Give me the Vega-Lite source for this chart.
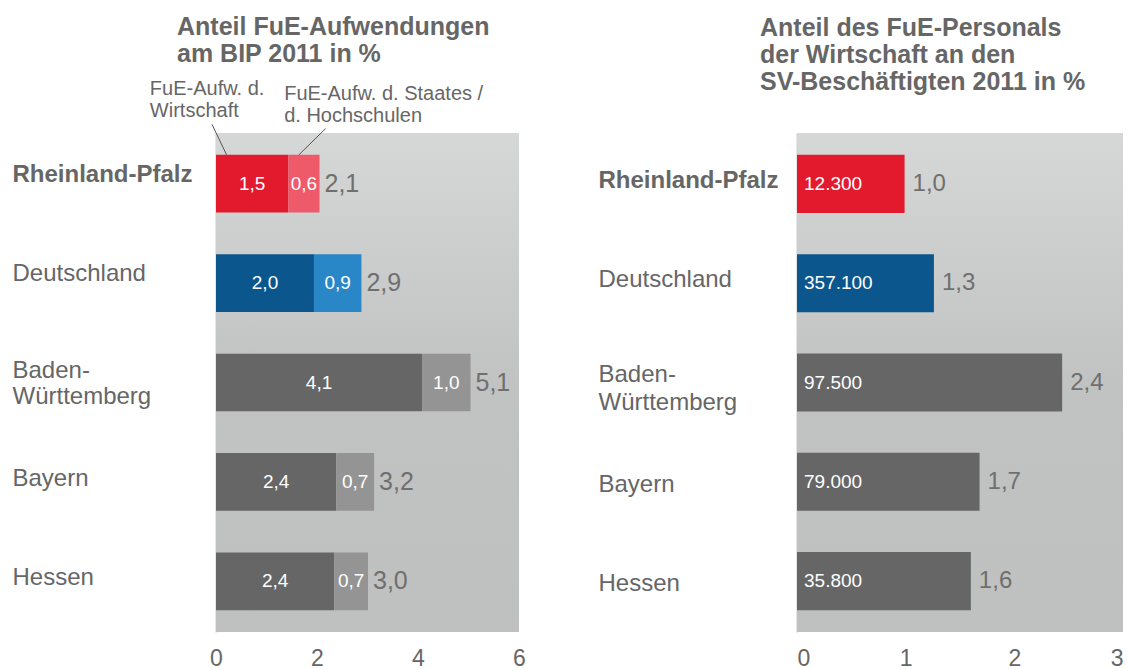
{
  "$schema": "https://vega.github.io/schema/vega-lite/v6.json",
  "padding": {"left": 12, "top": 15, "right": 0, "bottom": 0},
  "config": {
    "font": "Liberation Sans",
    "view": {"stroke": null},
    "title": {"font": "Liberation Sans", "fontSize": 25, "fontWeight": "bold", "color": "#666666", "anchor": "start", "frame": "group", "lineHeight": 27}
  },
  "datasets": {
    "fue": [
      {"land": "Rheinland-Pfalz", "w": 1.43, "total": 2.05, "l1": "1,5", "l2": "0,6", "lt": "2,1"},
      {"land": "Deutschland", "w": 1.94, "total": 2.88, "l1": "2,0", "l2": "0,9", "lt": "2,9"},
      {"land": "Baden-Württemberg", "w": 4.08, "total": 5.04, "l1": "4,1", "l2": "1,0", "lt": "5,1"},
      {"land": "Bayern", "w": 2.38, "total": 3.13, "l1": "2,4", "l2": "0,7", "lt": "3,2"},
      {"land": "Hessen", "w": 2.34, "total": 3.01, "l1": "2,4", "l2": "0,7", "lt": "3,0"}
    ],
    "personal": [
      {"land": "Rheinland-Pfalz", "anteil": 0.99, "anzahl": "12.300", "lt": "1,0"},
      {"land": "Deutschland", "anteil": 1.26, "anzahl": "357.100", "lt": "1,3"},
      {"land": "Baden-Württemberg", "anteil": 2.44, "anzahl": "97.500", "lt": "2,4"},
      {"land": "Bayern", "anteil": 1.68, "anzahl": "79.000", "lt": "1,7"},
      {"land": "Hessen", "anteil": 1.6, "anzahl": "35.800", "lt": "1,6"}
    ]
  },
  "hconcat": [
    {
      "width": 303,
      "height": 499,
      "title": {"text": ["Anteil FuE-Aufwendungen", "am BIP 2011 in %"], "dx": -39, "offset": 12},
      "data": {"name": "fue"},
      "layer": [
        {
          "data": {"values": [{}]},
          "mark": {"type": "rect", "fill": {"gradient": "linear", "x1": 0, "y1": 0, "x2": 0, "y2": 1, "stops": [{"offset": 0, "color": "#d6d7d7"}, {"offset": 0.5, "color": "#c1c2c2"}, {"offset": 1, "color": "#bfc0c0"}]}},
          "encoding": {"x": {"datum": 0, "type": "quantitative"}, "x2": {"datum": 6}}
        },
        {
          "mark": {"type": "bar"},
          "encoding": {
            "y": {"field": "land", "type": "nominal", "sort": null, "scale": {"paddingInner": 0.42, "paddingOuter": 0.22},
              "axis": {"title": null, "ticks": false, "tickSize": 0, "domain": true, "domainColor": "#e6e6e6", "domainWidth": 3, "labelAlign": "left", "labelPadding": 204, "labelFontSize": 24, "labelColor": "#666666", "labelLimit": 300, "labelBaseline": "middle", "labelLineHeight": 26,
                "labelFontWeight": {"condition": {"test": "datum.value == 'Rheinland-Pfalz'", "value": "bold"}, "value": "normal"},
                "labelOffset": {"condition": [{"test": "datum.value == 'Rheinland-Pfalz' || datum.value == 'Deutschland'", "value": -9}, {"test": "datum.value == 'Baden-Württemberg'", "value": -12}], "value": -3},
                "labelExpr": "datum.value == 'Baden-Württemberg' ? ['Baden-', 'Württemberg'] : datum.value"}},
            "x": {"field": "w", "type": "quantitative", "scale": {"domain": [0, 6], "nice": false},
              "axis": {"title": null, "values": [0, 2, 4, 6], "format": "d", "domain": false, "ticks": false, "tickSize": 0, "grid": false, "labelFontSize": 23, "labelColor": "#666666", "labelPadding": 15, "labelFlush": false}},
            "color": {"field": "land", "type": "nominal", "legend": null, "scale": {"domain": ["Rheinland-Pfalz", "Deutschland", "Baden-Württemberg", "Bayern", "Hessen"], "range": ["#e31a2e", "#0c568e", "#666666", "#666666", "#666666"]}}
          }
        },
        {
          "mark": {"type": "bar"},
          "encoding": {
            "y": {"field": "land", "type": "nominal", "sort": null},
            "x": {"field": "w", "type": "quantitative"},
            "x2": {"field": "total"},
            "color": {"field": "land", "type": "nominal", "legend": null, "scale": {"domain": ["Rheinland-Pfalz", "Deutschland", "Baden-Württemberg", "Bayern", "Hessen"], "range": ["#ee5a6a", "#2a87c7", "#949494", "#949494", "#949494"]}}
          }
        },
        {
          "transform": [{"calculate": "datum.w / 2", "as": "mitte1"}],
          "mark": {"type": "text", "color": "white", "fontSize": 19, "align": "center", "baseline": "middle"},
          "encoding": {"y": {"field": "land", "type": "nominal", "sort": null}, "x": {"field": "mitte1", "type": "quantitative"}, "text": {"field": "l1"}}
        },
        {
          "transform": [{"calculate": "(datum.w + datum.total) / 2", "as": "mitte2"}],
          "mark": {"type": "text", "color": "white", "fontSize": 19, "align": "center", "baseline": "middle"},
          "encoding": {"y": {"field": "land", "type": "nominal", "sort": null}, "x": {"field": "mitte2", "type": "quantitative"}, "text": {"field": "l2"}}
        },
        {
          "mark": {"type": "text", "color": "#6f6f6f", "fontSize": 25, "align": "left", "baseline": "middle", "dx": 5},
          "encoding": {"y": {"field": "land", "type": "nominal", "sort": null}, "x": {"field": "total", "type": "quantitative"}, "text": {"field": "lt"}}
        },
        {
          "data": {"values": [{}]},
          "mark": {"type": "text", "text": ["FuE-Aufw. d.", "Wirtschaft"], "align": "left", "baseline": "alphabetic", "fontSize": 20, "lineHeight": 22, "color": "#666666"},
          "encoding": {"x": {"datum": -1.31, "type": "quantitative"}, "y": {"datum": "Rheinland-Pfalz", "type": "nominal", "bandPosition": -1.03}}
        },
        {
          "data": {"values": [{}]},
          "mark": {"type": "text", "text": ["FuE-Aufw. d. Staates /", "d. Hochschulen"], "align": "left", "baseline": "alphabetic", "fontSize": 20, "lineHeight": 22, "color": "#666666"},
          "encoding": {"x": {"datum": 1.35, "type": "quantitative"}, "y": {"datum": "Rheinland-Pfalz", "type": "nominal", "bandPosition": -0.946}}
        },
        {
          "data": {"values": [{}]},
          "mark": {"type": "rule", "color": "#555555", "strokeWidth": 1},
          "encoding": {"x": {"datum": -0.08, "type": "quantitative"}, "x2": {"datum": 0.21}, "y": {"datum": "Rheinland-Pfalz", "type": "nominal", "bandPosition": -0.53}, "y2": {"datum": "Rheinland-Pfalz", "bandPosition": 0}}
        },
        {
          "data": {"values": [{}]},
          "mark": {"type": "rule", "color": "#555555", "strokeWidth": 1},
          "encoding": {"x": {"datum": 2.17, "type": "quantitative"}, "x2": {"datum": 1.64}, "y": {"datum": "Rheinland-Pfalz", "type": "nominal", "bandPosition": -0.455}, "y2": {"datum": "Rheinland-Pfalz", "bandPosition": 0}}
        }
      ],
      "resolve": {"scale": {"color": "independent"}}
    },
    {
      "width": 326,
      "height": 499,
      "title": {"text": ["Anteil des FuE-Personals", "der Wirtschaft an den", "SV-Beschäftigten 2011 in %"], "dx": -37, "offset": 38},
      "data": {"name": "personal"},
      "layer": [
        {
          "data": {"values": [{}]},
          "mark": {"type": "rect", "fill": {"gradient": "linear", "x1": 0, "y1": 0, "x2": 0, "y2": 1, "stops": [{"offset": 0, "color": "#d6d7d7"}, {"offset": 0.5, "color": "#c1c2c2"}, {"offset": 1, "color": "#bfc0c0"}]}},
          "encoding": {"x": {"datum": 0, "type": "quantitative"}, "x2": {"datum": 3}}
        },
        {
          "mark": {"type": "bar"},
          "encoding": {
            "y": {"field": "land", "type": "nominal", "sort": null, "scale": {"paddingInner": 0.415, "paddingOuter": 0.22},
              "axis": {"title": null, "ticks": false, "tickSize": 0, "domain": true, "domainColor": "#e6e6e6", "domainWidth": 3, "labelAlign": "left", "labelPadding": 199, "labelFontSize": 24, "labelColor": "#666666", "labelLimit": 300, "labelBaseline": "middle", "labelLineHeight": 28,
                "labelFontWeight": {"condition": {"test": "datum.value == 'Rheinland-Pfalz'", "value": "bold"}, "value": "normal"},
                "labelOffset": {"condition": [{"test": "datum.value == 'Rheinland-Pfalz' || datum.value == 'Deutschland'", "value": -3}, {"test": "datum.value == 'Baden-Württemberg'", "value": -8}], "value": 3},
                "labelExpr": "datum.value == 'Baden-Württemberg' ? ['Baden-', 'Württemberg'] : datum.value"}},
            "x": {"field": "anteil", "type": "quantitative", "scale": {"domain": [0, 3], "nice": false},
              "axis": {"title": null, "values": [0, 1, 2, 3], "format": "d", "domain": false, "ticks": false, "tickSize": 0, "grid": false, "labelFontSize": 23, "labelColor": "#666666", "labelPadding": 15, "labelFlush": true}},
            "color": {"field": "land", "type": "nominal", "legend": null, "scale": {"domain": ["Rheinland-Pfalz", "Deutschland", "Baden-Württemberg", "Bayern", "Hessen"], "range": ["#e31a2e", "#0c568e", "#666666", "#666666", "#666666"]}}
          }
        },
        {
          "mark": {"type": "text", "color": "white", "fontSize": 19, "align": "left", "baseline": "middle", "dx": 7},
          "encoding": {"y": {"field": "land", "type": "nominal", "sort": null}, "x": {"datum": 0, "type": "quantitative"}, "text": {"field": "anzahl"}}
        },
        {
          "mark": {"type": "text", "color": "#6f6f6f", "fontSize": 24, "align": "left", "baseline": "middle", "dx": 8},
          "encoding": {"y": {"field": "land", "type": "nominal", "sort": null}, "x": {"field": "anteil", "type": "quantitative"}, "text": {"field": "lt"}}
        }
      ]
    }
  ],
  "spacing": 72
}
